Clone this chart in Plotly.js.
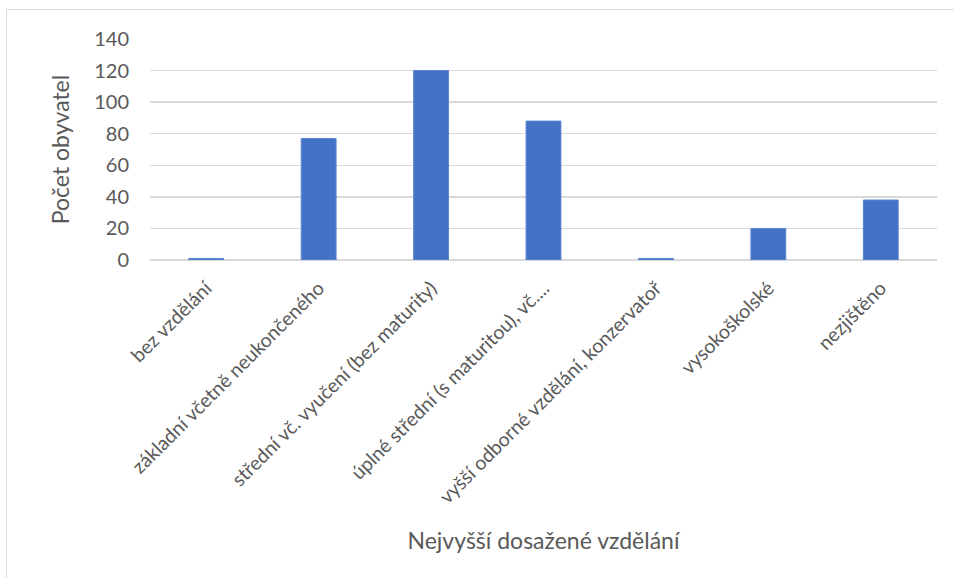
<!DOCTYPE html>
<html>
<head>
<meta charset="utf-8">
<script src="https://cdn.plot.ly/plotly-3.0.1.min.js"></script>
<style>
html,body{margin:0;padding:0;background:#fff;}
#wrap{position:relative;width:954px;height:578px;}
#chart{width:954px;height:578px;}
#frame{position:absolute;left:6px;top:9px;right:0;bottom:0;border-top:1.5px solid #d9d9d9;border-left:1.5px solid #d9d9d9;pointer-events:none;}
</style>
</head>
<body>
<div id="wrap"><div id="chart"></div><div id="frame"></div></div>
<script>
const categories = [
  "bez vzdělání",
  "základní včetně neukončeného",
  "střední vč. vyučení (bez maturity)",
  "úplné střední (s maturitou), vč....",
  "vyšší odborné vzdělání, konzervatoř",
  "vysokoškolské",
  "nezjištěno"
];
const values = [1, 77, 120, 88, 1, 20, 38];
const yTicks = [0, 20, 40, 60, 80, 100, 120, 140];
const xTitle = "Nejvyšší dosažené vzdělání";
const yTitle = "Počet obyvatel";

const font = "Lato, 'Open Sans', sans-serif";
const data = [{
  type: "bar",
  x: categories,
  y: values,
  marker: {color: "#4472C4", line: {color: "#5b85d0", width: 1}},
  hoverinfo: "x+y"
}];
const layout = {
  width: 954, height: 578,
  margin: {l: 150, r: 17, t: 39, b: 318},
  paper_bgcolor: "#fff", plot_bgcolor: "#fff",
  bargap: 0.69,
  showlegend: false,
  font: {family: font, color: "#595959"},
  xaxis: {
    type: "category",
    tickangle: -45,
    tickfont: {size: 19.5, color: "#595959", family: font},
    showgrid: false, showline: false, ticks: "",
    ticklabelstandoff: 12,
    automargin: false,
    title: {text: xTitle, font: {size: 23, color: "#595959", family: font}, standoff: 26}
  },
  yaxis: {
    range: [0, 140],
    tickvals: yTicks,
    ticktext: yTicks.map(String),
    tickfont: {size: 20, color: "#595959", family: font},
    gridcolor: "#d9d9d9", gridwidth: 1.5,
    zeroline: true, zerolinecolor: "#d9d9d9", zerolinewidth: 1.5,
    showline: false, ticks: "",
    ticklabelstandoff: 20,
    automargin: false,
    title: {text: yTitle, font: {size: 23, color: "#595959", family: font}, standoff: 18}
  }
};
Plotly.newPlot("chart", data, layout, {displayModeBar: false, staticPlot: true});
</script>
</body>
</html>
